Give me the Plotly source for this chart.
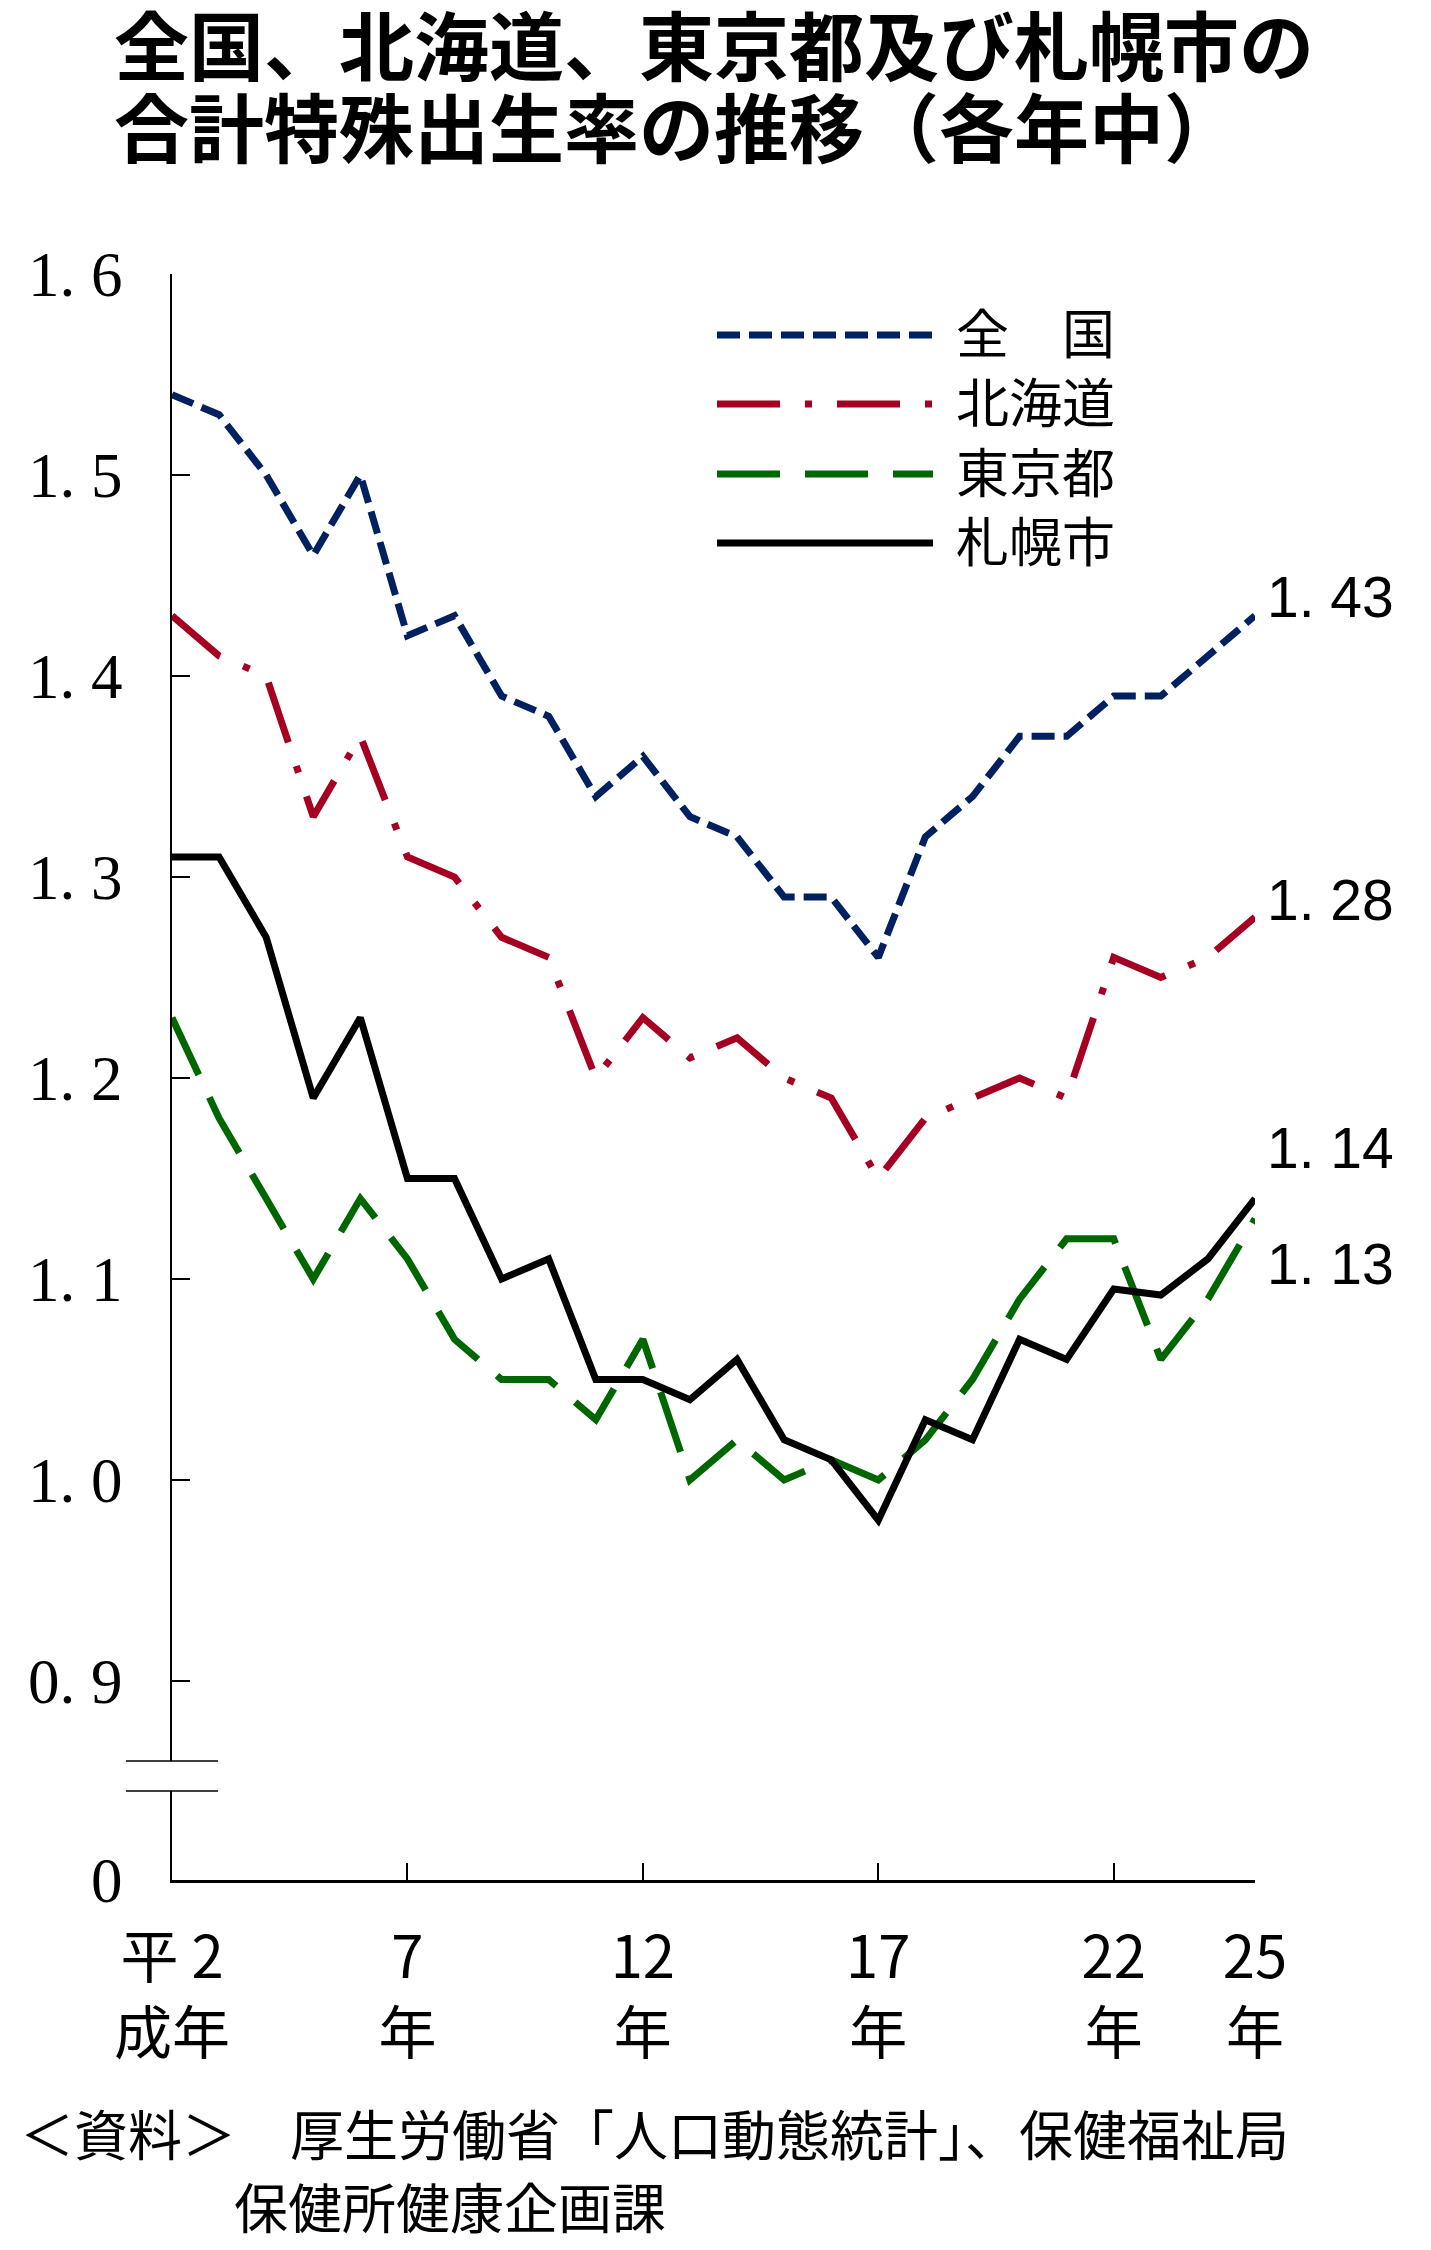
import plotly.graph_objects as go

# ---- data ----
years = list(range(2, 26))  # 平成2年〜25年
zenkoku = [1.54, 1.53, 1.50, 1.46, 1.50, 1.42, 1.43, 1.39, 1.38, 1.34, 1.36, 1.33,
           1.32, 1.29, 1.29, 1.26, 1.32, 1.34, 1.37, 1.37, 1.39, 1.39, 1.41, 1.43]
hokkaido = [1.43, 1.41, 1.40, 1.33, 1.37, 1.31, 1.30, 1.27, 1.26, 1.20, 1.23, 1.21,
            1.22, 1.20, 1.19, 1.15, 1.18, 1.19, 1.20, 1.19, 1.26, 1.25, 1.26, 1.28]
tokyo = [1.23, 1.18, 1.14, 1.10, 1.14, 1.11, 1.07, 1.05, 1.05, 1.03, 1.07, 1.00,
         1.02, 1.00, 1.01, 1.00, 1.02, 1.05, 1.09, 1.12, 1.12, 1.06, 1.09, 1.13]
sapporo = [1.31, 1.31, 1.27, 1.19, 1.23, 1.15, 1.15, 1.10, 1.11, 1.05, 1.05, 1.04,
           1.06, 1.02, 1.01, 0.98, 1.03, 1.02, 1.07, 1.06, 1.095, 1.092, 1.11, 1.14]

series_names = ["全　国", "北海道", "東京都", "札幌市"]
series_values = [zenkoku, hokkaido, tokyo, sapporo]

x_tickvals = [2, 7, 12, 17, 22, 25]
x_ticktext = ["平 2<br>成年", "7<br>年", "12<br>年", "17<br>年", "22<br>年", "25<br>年"]
x_minor_ticks = [7, 12, 17, 22]
y_tickvals = [0.801, 0.9, 1.0, 1.1, 1.2, 1.3, 1.4, 1.5, 1.6]
y_ticktext = ["0", "0. 9", "1. 0", "1. 1", "1. 2", "1. 3", "1. 4", "1. 5", "1. 6"]

title_lines = ["全国、北海道、東京都及び札幌市の", "合計特殊出生率の推移（各年中）"]
source_lines = ["＜資料＞　厚生労働省「人口動態統計」、保健福祉局", "保健所健康企画課"]

# ---- styles ----
colors = ["#002060", "#A50021", "#006600", "#000000"]
dashes = ["23px,9px", "63px,25px,7px,25px", "63px,25px", "solid"]
label_shifts = [19, 17, -45, 51]
LW = 7
CJK = "Noto Sans CJK JP"

W, H = 1431, 2250
ML, MR, MT, MB = 172, 176, 274, 370
plot_h = H - MT - MB
y_top = 1.6
y_bottom = y_top - plot_h / 2010.0

fig = go.Figure()
for i in range(4):
    fig.add_trace(go.Scatter(
        x=years, y=series_values[i], mode="lines", name=series_names[i],
        line=dict(color=colors[i], width=LW, dash=dashes[i]),
        showlegend=False, hoverinfo="skip"))

# end labels (text from last value)
for i in range(4):
    v = series_values[i][-1]
    fig.add_annotation(x=years[-1], y=v, xref="x", yref="y",
                       text=f"{v:.2f}".replace(".", ". "), showarrow=False,
                       xanchor="left", yanchor="middle", xshift=10,
                       yshift=label_shifts[i],
                       font=dict(family="Liberation Sans, Arial", size=57, color="black"))


def px_to_paper_x(px):
    return (px - ML) / (W - ML - MR)


def px_to_paper_y(py):
    return (H - MB - py) / plot_h


# legend (manual)
leg_rows = [335, 404, 474, 543]
for i, row in enumerate(leg_rows):
    yp = px_to_paper_y(row)
    fig.add_shape(type="line", xref="paper", yref="paper",
                  x0=px_to_paper_x(717), x1=px_to_paper_x(933), y0=yp, y1=yp,
                  line=dict(color=colors[i], width=LW, dash=dashes[i]))
    fig.add_annotation(xref="paper", yref="paper", x=px_to_paper_x(954), y=yp,
                       text=series_names[i], showarrow=False, xanchor="left",
                       yanchor="middle", yshift=4,
                       font=dict(family=CJK, size=53, color="black"))

# title
for line, py in zip(title_lines, [42, 124]):
    fig.add_annotation(xref="paper", yref="paper", x=px_to_paper_x(112),
                       y=px_to_paper_y(py), text=line, showarrow=False,
                       xanchor="left", yanchor="middle",
                       font=dict(family=CJK, size=75, color="black", weight="bold"))

# source
for line, px, py in zip(source_lines, [18, 232], [2132, 2205]):
    fig.add_annotation(xref="paper", yref="paper", x=px_to_paper_x(px),
                       y=px_to_paper_y(py), text=line, showarrow=False,
                       xanchor="left", yanchor="middle",
                       font=dict(family=CJK, size=54, color="black"))

# axis break (paper coordinates so that it is not clipped)
def val_to_paper_y(v):
    return (v - y_bottom) / (y_top - y_bottom)

brk_hi = val_to_paper_y(y_top - (1761 - MT) / 2010.0)
brk_lo = val_to_paper_y(y_top - (1791 - MT) / 2010.0)
fig.add_shape(type="rect", xref="paper", yref="paper", xsizemode="pixel", xanchor=0,
              x0=-6, x1=6, y0=brk_lo, y1=brk_hi, fillcolor="white",
              line=dict(width=0), layer="above")
for yb in [brk_hi, brk_lo]:
    fig.add_shape(type="line", xref="paper", yref="paper", xsizemode="pixel", xanchor=0,
                  x0=-46, x1=46, y0=yb, y1=yb, line=dict(color="black", width=1.5),
                  layer="above")

fig.update_layout(
    width=W, height=H,
    margin=dict(l=ML, r=MR, t=MT, b=MB, pad=0),
    paper_bgcolor="white", plot_bgcolor="white",
    showlegend=False,
)
fig.update_xaxes(
    range=[2, 25], showgrid=False, zeroline=False,
    showline=True, linecolor="black", linewidth=2.5,
    tickmode="array", tickvals=x_tickvals, ticktext=x_ticktext, ticks="",
    ticklabelstandoff=26,
    tickfont=dict(family=CJK, size=58, color="black"),
    minor=dict(tickmode="array", tickvals=x_minor_ticks, ticks="inside",
               ticklen=17, tickwidth=2, tickcolor="black", showgrid=False),
)
fig.update_yaxes(
    range=[y_bottom, y_top], showgrid=False, zeroline=False,
    showline=True, linecolor="black", linewidth=2,
    tickmode="array", tickvals=y_tickvals, ticktext=y_ticktext,
    ticks="inside", ticklen=18, tickwidth=2, tickcolor="black",
    ticklabelstandoff=35,
    tickfont=dict(family="Liberation Serif, DejaVu Serif", size=63, color="black"),
)

fig.write_html("out.html")
